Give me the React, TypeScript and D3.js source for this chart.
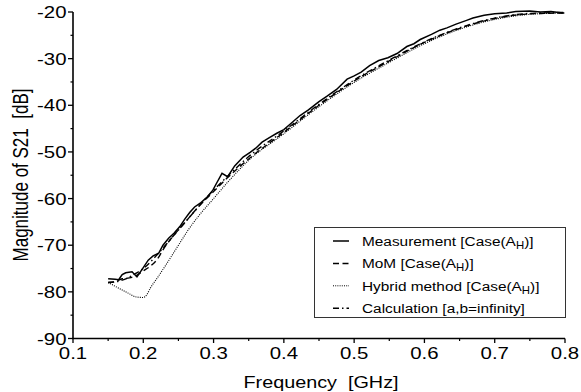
import React, { useEffect, useRef } from 'react';
import * as d3 from 'd3';

// values
const measFreq = [0.15, 0.16, 0.165, 0.17, 0.175, 0.184, 0.191, 0.2, 0.207, 0.214, 0.222, 0.228, 0.236, 0.244, 0.252, 0.259, 0.266, 0.273, 0.281, 0.29, 0.299, 0.305, 0.312, 0.32, 0.33, 0.342, 0.352, 0.36, 0.369, 0.38, 0.39, 0.4, 0.41, 0.423, 0.435, 0.45, 0.461, 0.475, 0.49, 0.5, 0.51, 0.522, 0.535, 0.548, 0.561, 0.575, 0.585, 0.594, 0.61, 0.622, 0.632, 0.645, 0.66, 0.669, 0.685, 0.7, 0.717, 0.73, 0.75, 0.765, 0.78, 0.797];
const measDb = [-77.2, -77.3, -77.4, -76.3, -75.9, -75.7, -76.8, -74.8, -73.2, -72.3, -71.7, -70, -68.5, -67.4, -66, -64.4, -63, -61.8, -61, -59.8, -58.2, -56.5, -54.6, -55.3, -53, -51.1, -50.1, -49.2, -47.9, -46.9, -46, -45.2, -43.9, -42.2, -41, -39.2, -38.1, -36.6, -34.4, -33.7, -32.9, -31.5, -30.4, -29.8, -28.9, -27.4, -26.8, -25.9, -24.8, -23.9, -23.4, -22.6, -21.8, -21.3, -20.7, -20.4, -20.2, -19.9, -19.8, -20.0, -19.9, -20.2];

const momFreq = [0.15, 0.16, 0.17, 0.18, 0.19, 0.2, 0.21, 0.22, 0.23, 0.24, 0.26, 0.28, 0.3, 0.32, 0.35, 0.4, 0.45, 0.5, 0.55, 0.6, 0.65, 0.7, 0.75, 0.8];
const momDb = [-78, -77.8, -77.2, -77, -76.5, -75.5, -74.5, -73, -70.5, -68.5, -65, -61.5, -58.5, -55.5, -51.5, -45.8, -40, -34.8, -30.5, -26.5, -23.5, -21.4, -20.4, -20.2];

const hybFreq = [0.15, 0.16, 0.17, 0.18, 0.19, 0.2, 0.205, 0.21, 0.22, 0.234, 0.25, 0.265, 0.28, 0.3, 0.32, 0.35, 0.4, 0.45, 0.5, 0.55, 0.6, 0.65, 0.7, 0.75, 0.8];
const hybDb = [-78, -78.8, -79.6, -80.4, -81.1, -81.2, -80.6, -79.2, -77, -73.8, -70, -66.5, -63.5, -60, -56.5, -51.8, -46.1, -40.3, -35.1, -30.8, -26.8, -23.7, -21.6, -20.5, -20.2];

const calcFreq = [0.15, 0.17, 0.19, 0.2, 0.22, 0.24, 0.26, 0.28, 0.3, 0.32, 0.35, 0.4, 0.45, 0.5, 0.55, 0.6, 0.65, 0.7, 0.75, 0.8];
const calcDb = [-78, -77.5, -76, -75, -72, -68.5, -65, -61.5, -58.2, -55.2, -51, -45.5, -39.8, -34.6, -30.3, -26.4, -23.4, -21.3, -20.3, -20.1];

const xTicks = [0.1, 0.2, 0.3, 0.4, 0.5, 0.6, 0.7, 0.8];
const yTicks = [-90, -80, -70, -60, -50, -40, -30, -20];
const legendLabels = ["Measurement [Case(A", "MoM [Case(A", "Hybrid method [Case(A", "Calculation [a,b=infinity]"];
const dashes = [null, "6,3.5", "1,1.2", "6,3,1.5,3"];

const W = 581;
const H = 392;
const FONT = "'Liberation Sans', Arial, Helvetica, sans-serif";

export default function App() {
  const svgRef = useRef<SVGSVGElement>(null);

  useEffect(() => {
    if (!svgRef.current) return;
    const svg = d3.select(svgRef.current);
    svg.selectAll("*").remove();

    const x = d3.scaleLinear().domain([0.1, 0.8]).range([73, 565]);
    const y = d3.scaleLinear().domain([-90, -20]).range([338.5, 12]);
    const sx = 1.2; // glyphs in the reference are stretched sideways

    const txt = (px: number, py: number, s: string, size: number, anchor: string, rot = false) =>
      svg.append("text")
        .attr("transform", `translate(${px},${py}) scale(${rot ? 1.25 : sx},1)${rot ? " rotate(-90)" : ""}`)
        .attr("text-anchor", anchor)
        .style("font-family", FONT)
        .style("font-size", `${size}px`)
        .style("white-space", "pre")
        .attr("fill", "#000")
        .text(s);

    // axes lines
    svg.append("line").attr("x1", x(0.1)).attr("x2", x(0.1)).attr("y1", y(-20)).attr("y2", y(-90) + 0.5).attr("stroke", "#000").attr("stroke-width", 1.6);
    svg.append("line").attr("x1", x(0.1) - 0.8).attr("x2", x(0.8)).attr("y1", y(-90)).attr("y2", y(-90)).attr("stroke", "#000").attr("stroke-width", 1.6);

    // ticks
    yTicks.forEach(t => {
      svg.append("line").attr("x1", x(0.1) - 5).attr("x2", x(0.1)).attr("y1", y(t)).attr("y2", y(t)).attr("stroke", "#000").attr("stroke-width", 1.3);
      txt(x(0.1) - 6.5, y(t) + 6, String(t), 17, "end");
    });
    yTicks.slice(0, -1).forEach(t => {
      svg.append("line").attr("x1", x(0.1) - 2.5).attr("x2", x(0.1)).attr("y1", y(t + 5)).attr("y2", y(t + 5)).attr("stroke", "#000").attr("stroke-width", 1.2);
    });
    xTicks.forEach(t => {
      svg.append("line").attr("x1", x(t)).attr("x2", x(t)).attr("y1", y(-90)).attr("y2", y(-90) + 4.5).attr("stroke", "#000").attr("stroke-width", 1.3);
      txt(x(t), 358.5, t.toFixed(1), 17, "middle");
    });
    xTicks.slice(0, -1).forEach(t => {
      svg.append("line").attr("x1", x(t + 0.05)).attr("x2", x(t + 0.05)).attr("y1", y(-90)).attr("y2", y(-90) + 2.5).attr("stroke", "#000").attr("stroke-width", 1.2);
    });

    txt(321, 388, "Frequency  [GHz]", 16.5, "middle");
    txt(28, 175, "Magnitude of S21  [dB]", 17, "middle", true);

    // curves
    const series = [
      { f: measFreq, v: measDb, dash: dashes[0], w: 1.5 },
      { f: momFreq, v: momDb, dash: dashes[1], w: 1.4 },
      { f: hybFreq, v: hybDb, dash: dashes[2], w: 1.1 },
      { f: calcFreq, v: calcDb, dash: dashes[3], w: 1.4 },
    ];
    series.forEach(s => {
      const pts = s.f.map((f, i) => [f, s.v[i]] as [number, number]);
      const line = d3.line<[number, number]>().x(d => x(d[0])).y(d => y(d[1]))
        .curve(s.dash === null ? d3.curveLinear : d3.curveMonotoneX);
      svg.append("path").attr("d", line(pts)!).attr("fill", "none").attr("stroke", "#000")
        .attr("stroke-width", s.w).attr("stroke-dasharray", s.dash ?? null);
    });

    // legend
    const lg = svg.append("g");
    lg.append("rect").attr("x", 314.5).attr("y", 227.5).attr("width", 251).attr("height", 90).attr("fill", "#fff").attr("stroke", "#333").attr("stroke-width", 1);
    legendLabels.forEach((lab, i) => {
      const ry = 241 + i * 22.4;
      lg.append("line").attr("x1", 333).attr("x2", 349).attr("y1", ry).attr("y2", ry).attr("stroke", "#000")
        .attr("stroke-width", i === 2 ? 1 : 1.5).attr("stroke-dasharray", dashes[i] ?? null);
      const t = lg.append("text")
        .attr("transform", `translate(362,${ry + 5}) scale(1.14,1)`)
        .style("font-family", FONT).style("font-size", "13.5px").attr("fill", "#000");
      t.append("tspan").text(lab);
      if (i < 3) {
        t.append("tspan").attr("dy", 3).style("font-size", "10px").text("H");
        t.append("tspan").attr("dy", -3).text(")]");
      }
    });
  }, []);

  return (
    <svg ref={svgRef} width={W} height={H} viewBox={`0 0 ${W} ${H}`}
      style={{ position: "absolute", left: 0, top: 0, background: "#fff" }} />
  );
}
